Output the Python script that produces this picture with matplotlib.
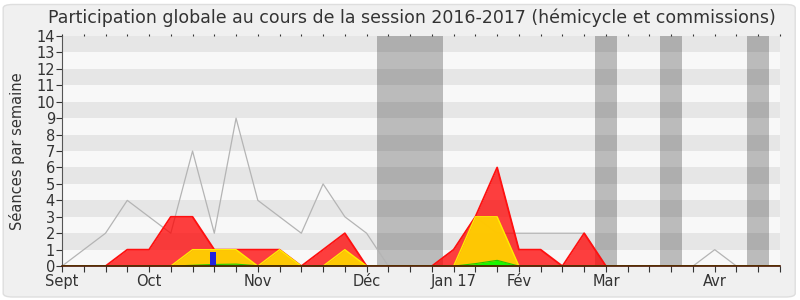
import numpy as np
import matplotlib.pyplot as plt
from matplotlib.patches import FancyBboxPatch

# weekly values, week 0 = early Sept 2016
weeks = np.arange(34)
total = [0, 1, 2, 4, 3, 2, 7, 2, 9, 4, 3, 2, 5, 3, 2, 0, 0, 0, 1, 3,
         2, 2, 2, 2, 2, 0, 0, 0, 0, 0, 1, 0, 0, 0]
presence = [0, 0, 0, 1, 1, 3, 3, 1, 1, 1, 1, 0, 1, 2, 0, 0, 0, 0, 1, 3,
            6, 1, 1, 0, 2, 0, 0, 0, 0, 0, 0, 0, 0, 0]
interventions = [0, 0, 0, 0, 0, 0, 1, 1, 1, 0, 1, 0, 0, 1, 0, 0, 0, 0, 0, 3,
                 3, 0, 0, 0, 0, 0, 0, 0, 0, 0, 0, 0, 0, 0]
questions = [0, 0, 0, 0, 0, 0, 0.05, 0.1, 0.12, 0.02, 0.02, 0, 0.02, 0.02, 0, 0, 0, 0, 0, 0.15,
             0.35, 0, 0, 0, 0, 0, 0, 0, 0, 0, 0, 0, 0, 0]
oral_week = [6.95]
oral_value = [0.85]
vacances = [(14.5, 17.5), (24.5, 25.5), (27.5, 28.5), (31.5, 32.5)]
month_ticks = {0: "Sept", 4: "Oct", 9: "Nov", 14: "Déc", 18: "Jan 17",
               21: "Fév", 25: "Mar", 30: "Avr"}

fig = plt.figure(figsize=(8, 3), dpi=100)
fig.patch.set_facecolor("white")
fig.patches.append(FancyBboxPatch((0.004, 0.01), 0.99, 0.975, boxstyle="round,pad=0,rounding_size=0.012",
                                  transform=fig.transFigure, facecolor="#f0f0f0",
                                  edgecolor="#dedede", linewidth=1, zorder=-10))

ax = fig.add_axes([0.0775, 0.113, 0.8975, 0.767])
ax.set_facecolor("#f8f8f8")

# horizontal stripes
for y in range(1, 14, 2):
    ax.axhspan(y, y + 1, color="#e6e6e6", lw=0, zorder=0)

# holidays
for a, b in vacances:
    ax.axvspan(a, b, color="black", alpha=0.245, lw=0, zorder=1)

ax.plot(weeks, total, color="#b4b4b4", lw=0.9, zorder=2)

ax.fill_between(weeks, 0, presence, color="#ff0000", alpha=0.75, lw=0, zorder=3)
ax.plot(weeks, presence, color="#ff1010", lw=1.3, zorder=3)
ax.fill_between(weeks, 0, interventions, color="#ffd000", alpha=0.95, lw=0, zorder=4)
ax.plot(weeks, interventions, color="#ffee00", lw=1.0, zorder=4)
ax.fill_between(weeks, 0, questions, color="#00ff00", alpha=0.9, lw=0, zorder=5)
ax.plot(weeks, questions, color="#22cc00", lw=0.8, zorder=5)
ax.bar(oral_week, oral_value, width=0.3, color="#2222dd", zorder=6)

ax.set_xlim(0, 33)
ax.set_ylim(0, 14)
ax.set_yticks(range(0, 15))
ax.set_xticks(weeks)
ax.set_xticklabels([month_ticks.get(w, "") for w in weeks])
ax.tick_params(axis="both", labelsize=10.5, colors="#333333", length=4, width=0.8, pad=1)
ax.tick_params(axis="x", top=True, pad=2)
for t in ax.xaxis.get_major_ticks():
    t.tick2line.set_markersize(1.5)

for s in ["top", "right"]:
    ax.spines[s].set_visible(False)
ax.spines["left"].set_color("#555555")
ax.spines["bottom"].set_color("#4a1500")
ax.spines["bottom"].set_linewidth(1.2)
ax.spines["bottom"].set_zorder(7)

ax.set_ylabel("Séances par semaine", fontsize=10.5, color="#333333", labelpad=8)
fig.text(0.515, 0.94, "Participation globale au cours de la session 2016-2017 (hémicycle et commissions)",
         ha="center", va="center", fontsize=12.5, color="#333333")

fig.savefig("out.png", dpi=100, facecolor=fig.get_facecolor())
